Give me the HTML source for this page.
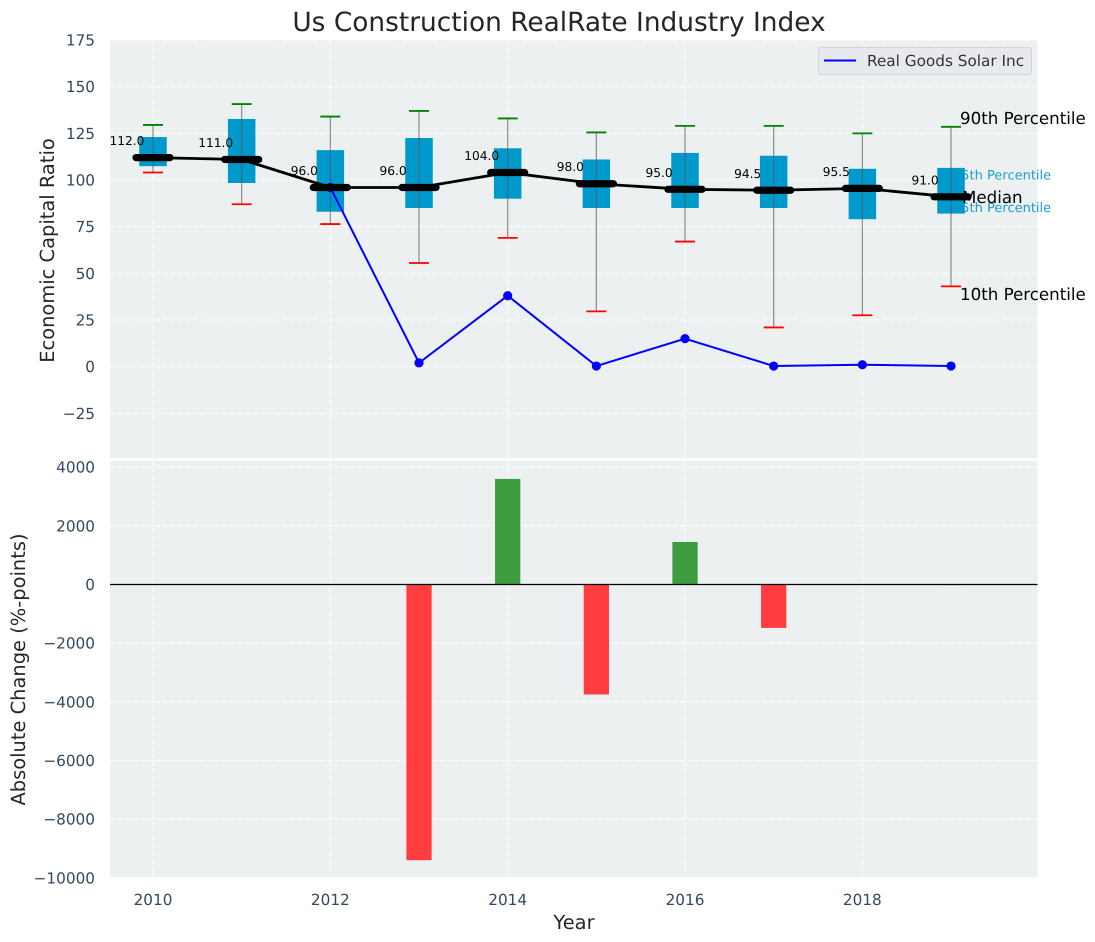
<!DOCTYPE html>
<html lang="en">
<head>
<meta charset="utf-8">
<title>Us Construction RealRate Industry Index</title>
<style>
html,body{margin:0;padding:0;background:#fff;width:1095px;height:942px;overflow:hidden}
svg{display:block}
text{font-family:"DejaVu Sans","Liberation Sans",sans-serif;text-rendering:geometricPrecision}
</style>
</head>
<body>
<svg id="chart" width="1095" height="942" viewBox="0 0 1095 942" xmlns="http://www.w3.org/2000/svg">
  <text x="559" y="31" font-size="26.4" fill="#262626" text-anchor="middle">Us Construction RealRate Industry Index</text>
  <rect x="110" y="40" width="927.5" height="418" fill="#ecf0f1"/>
  <rect x="110" y="461" width="927.5" height="416" fill="#ecf0f1"/>
  <g id="grid"></g>
  <g id="bars"></g>
  <line x1="110" x2="1037.5" y1="584.5" y2="584.5" stroke="#000" stroke-width="1.3"/>
  <text x="953" y="179.5" font-size="13" fill="#1a9fd0">75th Percentile</text>
  <text x="953" y="212" font-size="13" fill="#1a9fd0">25th Percentile</text>
  <g id="boxes"></g>
  <g id="company"></g>
  <text x="962" y="203" font-size="16.67" fill="#000">Median</text>
  <g id="medians"></g>
  <text x="960" y="124" font-size="16.67" fill="#000">90th Percentile</text>
  <text x="960" y="300" font-size="16.67" fill="#000">10th Percentile</text>
  <g id="ticks"></g>
  <text transform="translate(54,250.5) rotate(-90)" font-size="19.44" fill="#262626" text-anchor="middle">Economic Capital Ratio</text>
  <text transform="translate(25,669.5) rotate(-90)" font-size="19.44" fill="#262626" text-anchor="middle">Absolute Change (%-points)</text>
  <text x="574" y="929" font-size="19.44" fill="#262626" text-anchor="middle">Year</text>
  <g>
    <rect x="818.5" y="47.5" width="213" height="27" rx="3" fill="#e8e9ef" stroke="#d3d4d9"/>
    <line x1="824" x2="856" y1="60.5" y2="60.5" stroke="#0000ff" stroke-width="2"/>
    <text x="867" y="66" font-size="15.28" fill="#333">Real Goods Solar Inc</text>
  </g>
</svg>
<script>
const years = [2010, 2011, 2012, 2013, 2014, 2015, 2016, 2017, 2018, 2019];
const p90 = [129.5, 140.7, 134, 137, 133, 125.5, 129, 129, 125, 128.5];
const q3 = [123, 132.7, 116, 122.5, 117, 111, 114.5, 113, 106, 106.5];
const medianValues = [112, 111, 96, 96, 104, 98, 95, 94.5, 95.5, 91];
const q1 = [107.4, 98.4, 83, 85, 90, 85, 85, 85, 79, 82];
const p10 = [104, 87, 76.4, 55.5, 69, 29.6, 67, 21, 27.5, 43];
const companyYears = [2012, 2013, 2014, 2015, 2016, 2017, 2018, 2019];
const companyValues = [96, 2, 38, 0.3, 15, 0.3, 1, 0.3];
const changeYears = [2013, 2014, 2015, 2016, 2017, 2018, 2019];
const changeValues = [-9400, 3600, -3750, 1450, -1480, -5, -20];
const topTicks = [175, 150, 125, 100, 75, 50, 25, 0, -25];
const bottomTicks = [4000, 2000, 0, -2000, -4000, -6000, -8000, -10000];
const xTicks = [2010, 2012, 2014, 2016, 2018];

const NS = 'http://www.w3.org/2000/svg';
const xScale = v => 153 + (v - 2010) * 88.67;
const yTop = v => 366.6 - v * 1.866;
const yBottom = v => 584.5 - v * 0.02933;
const BOX_W = 0.31, BAR_W = 0.285;

function make(tag, parent, attrs, content) {
  const el = document.createElementNS(NS, tag);
  for (const k in attrs) el.setAttribute(k, attrs[k]);
  if (content !== undefined) el.textContent = content;
  document.getElementById(parent).appendChild(el);
  return el;
}
function fmt(v) { return String(v).replace('-', '\u2212'); }

topTicks.forEach(v => {
  const g = make('line', 'grid', {x1: 110, x2: 1037.5, y1: yTop(v), y2: yTop(v), stroke: '#fff', 'stroke-width': 1.1, 'stroke-dasharray': '5 2.5', opacity: 0.9});
  
  
  const t = make('text', 'ticks', {x: 95, y: yTop(v) + 5.5, 'font-size': 15.28, fill: '#34495e', 'text-anchor': 'end'}, fmt(v));
  
  
});
bottomTicks.forEach(v => {
  const g = make('line', 'grid', {x1: 110, x2: 1037.5, y1: yBottom(v), y2: yBottom(v), stroke: '#fff', 'stroke-width': 1.1, 'stroke-dasharray': '5 2.5', opacity: 0.9});
  
  
  const t = make('text', 'ticks', {x: 95, y: yBottom(v) + 5.5, 'font-size': 15.28, fill: '#34495e', 'text-anchor': 'end'}, fmt(v));
  
  
});
xTicks.forEach(v => {
  const a = make('line', 'grid', {x1: xScale(v), x2: xScale(v), y1: 40, y2: 458, stroke: '#fff', 'stroke-width': 1.1, 'stroke-dasharray': '5 2.5', opacity: 0.9});
  
  
  const b = make('line', 'grid', {x1: xScale(v), x2: xScale(v), y1: 461, y2: 877, stroke: '#fff', 'stroke-width': 1.1, 'stroke-dasharray': '5 2.5', opacity: 0.9});
  
  
  const t = make('text', 'ticks', {x: xScale(v), y: 905, 'font-size': 15.28, fill: '#34495e', 'text-anchor': 'middle'}, String(v));
  
  
});

changeYears.forEach((yr, i) => {
  const v = changeValues[i];
  const x0 = xScale(yr - BAR_W / 2), x1 = xScale(yr + BAR_W / 2);
  const y0 = Math.min(yBottom(v), yBottom(0)), y1 = Math.max(yBottom(v), yBottom(0));
  const r = make('rect', 'bars', {x: x0, y: y0, width: x1 - x0, height: y1 - y0, fill: v >= 0 ? '#3d9c3d' : '#ff3d3f'});
  
  
});

years.forEach((yr, i) => {
  const cx = xScale(yr);
  const x0 = xScale(yr - BOX_W / 2), x1 = xScale(yr + BOX_W / 2);
  const box = make('rect', 'boxes', {x: x0, y: yTop(q3[i]), width: x1 - x0, height: yTop(q1[i]) - yTop(q3[i]), fill: '#0099cc'});
  
  
  const w = make('line', 'boxes', {x1: cx, x2: cx, y1: yTop(p90[i]), y2: yTop(p10[i]), stroke: '#555', 'stroke-opacity': 0.65, 'stroke-width': 1.2});
  
  
  const hi = make('line', 'boxes', {x1: cx - 10, x2: cx + 10, y1: yTop(p90[i]), y2: yTop(p90[i]), stroke: '#008000', 'stroke-width': 1.8});
  
  
  const lo = make('line', 'boxes', {x1: cx - 10, x2: cx + 10, y1: yTop(p10[i]), y2: yTop(p10[i]), stroke: '#ff0000', 'stroke-width': 1.8});
  
  
});

const companyPath = make('polyline', 'company', {fill: 'none', stroke: '#0000ff', 'stroke-width': 2, points: companyYears.map((yr, i) => xScale(yr) + ',' + yTop(companyValues[i])).join(' ')});


companyYears.forEach((yr, i) => {
  const c = make('circle', 'company', {cx: xScale(yr), cy: yTop(companyValues[i]), r: 4.6, fill: '#0000ff'});
  
  
});

const medianPath = make('polyline', 'medians', {fill: 'none', stroke: '#000', 'stroke-width': 2.8, points: years.map((yr, i) => xScale(yr) + ',' + yTop(medianValues[i])).join(' ')});


years.forEach((yr, i) => {
  const cx = xScale(yr), y = yTop(medianValues[i]);
  const m = make('line', 'medians', {x1: cx - 17, x2: cx + 17, y1: y, y2: y, stroke: '#000', 'stroke-width': 7.2, 'stroke-linecap': 'round'});
  
  
  const t = make('text', 'medians', {x: cx - 26, y: y - 12.5, 'font-size': 12.2, fill: '#000', 'text-anchor': 'middle'}, medianValues[i].toFixed(1));
  
  
});
</script>
</body>
</html>
